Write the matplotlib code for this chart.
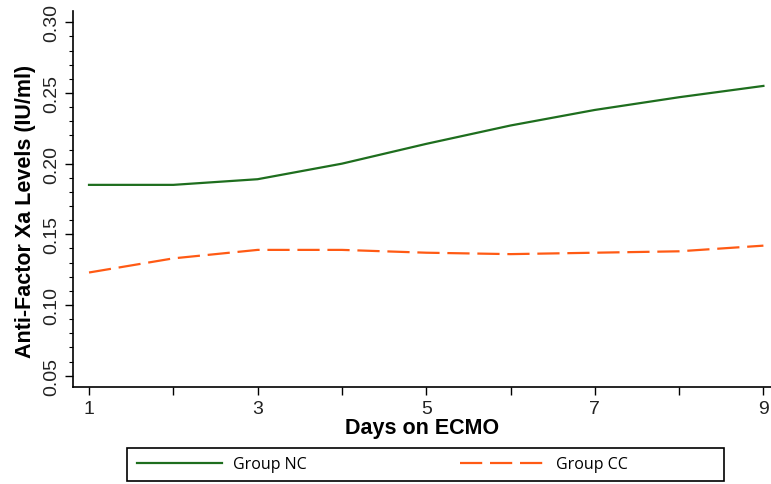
import numpy as np
import matplotlib.pyplot as plt
from matplotlib.ticker import MultipleLocator
from matplotlib.patches import Rectangle

days = [1, 2, 3, 4, 5, 6, 7, 8, 9]
group_nc = [0.185, 0.185, 0.189, 0.200, 0.214, 0.227, 0.238, 0.247, 0.255]
group_cc = [0.123, 0.133, 0.139, 0.139, 0.137, 0.136, 0.137, 0.138, 0.142]
xtick_labels = ['1', '', '3', '', '5', '', '7', '', '9']
ytick_vals = [0.05, 0.10, 0.15, 0.20, 0.25, 0.30]

fig = plt.figure(figsize=(7.71, 4.85), dpi=100)
ax = fig.add_axes([73/771, 1-388/485, 1-73/771, (388-12)/485])

ax.plot(days, group_nc, color='#1e6e1e', lw=1.6, label='Group NC')
ax.plot(days, group_cc, color='#ff5a14', lw=1.6, dashes=(10, 3.5), label='Group CC')

ax.set_xlim(0.81, 9.09)
ax.set_ylim(0.042, 0.308)
ax.set_xticks(days)
ax.set_xticklabels(xtick_labels, fontsize=14, family='Liberation Sans', color='#222222')
ax.yaxis.set_minor_locator(MultipleLocator(0.01))
ax.set_yticks(ytick_vals)
ax.set_yticklabels(['%.2f' % v for v in ytick_vals],
                   rotation=90, va='center', fontsize=14, family='Liberation Sans', color='#222222')
ax.tick_params(axis='both', which='major', length=6, width=1.0, direction='out')
ax.tick_params(axis='y', which='minor', length=3, width=0.8)
ax.spines['top'].set_visible(False)
ax.spines['right'].set_visible(False)
ax.spines['left'].set_linewidth(1.2)
ax.spines['bottom'].set_linewidth(1.2)

ax.set_xlabel('Days on ECMO', fontsize=15.5, fontweight='bold', family='Liberation Sans', labelpad=0)
ax.set_ylabel('Anti-Factor Xa Levels (IU/ml)', fontsize=15.5, fontweight='bold', family='Liberation Sans')
ax.yaxis.set_label_coords(-0.053, 0.47)

# legend box
box = Rectangle((127/771, 1-482/485), (724-127)/771, (482-449)/485, transform=fig.transFigure,
                fill=False, edgecolor='black', lw=1.2)
fig.add_artist(box)
leg = fig.legend(loc='center left', bbox_to_anchor=(127/771, 1-465.5/485), ncol=2,
                 frameon=False, handlelength=5.3, handletextpad=0.7, columnspacing=9.6,
                 prop={'family': 'Open Sans', 'size': 11.5}, borderaxespad=0, borderpad=0.65)

fig.savefig('out.png', dpi=100)
